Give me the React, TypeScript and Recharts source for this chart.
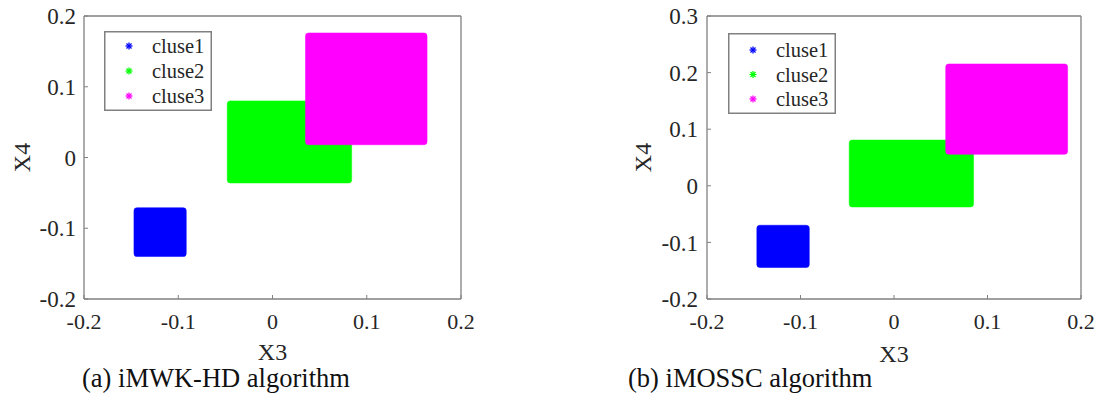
import { ScatterChart, Scatter, XAxis, YAxis, ReferenceArea } from 'recharts'

const x3Ticks = [-0.2, -0.1, 0, 0.1, 0.2]
const x4TicksA = [-0.2, -0.1, 0, 0.1, 0.2]
const x4TicksB = [-0.2, -0.1, 0, 0.1, 0.2, 0.3]
const clusterNames = ['cluse1', 'cluse2', 'cluse3']
const clusterColors = ['#0000ff', '#00ff00', '#ff00ff']
// cluster extents: [x3 min, x3 max, x4 min, x4 max]
const iMWKHD = [
  [-0.147, -0.0915, -0.14, -0.071],
  [-0.048, 0.084, -0.036, 0.08],
  [0.035, 0.164, 0.018, 0.176],
]
const iMOSSC = [
  [-0.1467, -0.0906, -0.1444, -0.0697],
  [-0.0479, 0.0851, -0.0374, 0.0808],
  [0.0553, 0.1857, 0.0556, 0.2153],
]
const captions = ['(a) iMWK-HD algorithm', '(b) iMOSSC algorithm']

const FONT = '"Liberation Serif", "Times New Roman", serif'
const AXIS = '#808080'
const INK = '#262626'

function Star({ x, y, color }: { x: number; y: number; color: string }) {
  const r = 3.5
  return (
    <g stroke={color} strokeWidth={1.3}>
      <line x1={x - r} y1={y} x2={x + r} y2={y} />
      <line x1={x} y1={y - r} x2={x} y2={y + r} />
      <line x1={x - 2.5} y1={y - 2.5} x2={x + 2.5} y2={y + 2.5} />
      <line x1={x - 2.5} y1={y + 2.5} x2={x + 2.5} y2={y - 2.5} />
    </g>
  )
}

function LegendBox({ left, top, width, height, markX, textX, rowY, gap }: any) {
  return (
    <svg style={{ position: 'absolute', left, top }} width={width} height={height}>
      <rect x={0.75} y={0.75} width={width - 1.5} height={height - 1.5} fill="#fff" stroke={AXIS} strokeWidth={1.5} />
      {clusterNames.map((name, i) => (
        <g key={name}>
          <Star x={markX} y={rowY + i * gap} color={clusterColors[i]} />
          <text x={textX} y={rowY + i * gap} dy="0.35em" fontSize={20.5} fontFamily={FONT} fill={INK}>{name}</text>
        </g>
      ))}
    </svg>
  )
}

function Panel({ left, width, plotLeft, plotRight, yTicks, bounds, yTickMargin, yTitleX, xTitleY }: any) {
  const xTick = { fill: INK, fontSize: 22, fontFamily: FONT }
  const yTick = { fill: INK, fontSize: 23, fontFamily: FONT }
  const domainY = [yTicks[0], yTicks[yTicks.length - 1]]
  const corners = bounds.flatMap((b: number[]) => [{ x: b[0], y: b[2] }, { x: b[1], y: b[3] }])
  return (
    <div style={{ position: 'absolute', left, top: 0, width, height: 400 }}>
      <ScatterChart width={width} height={400} margin={{ top: 15, right: width - plotRight, bottom: 31, left: 0 }}>
        <XAxis type="number" dataKey="x" domain={[-0.2, 0.2]} ticks={x3Ticks} height={70} fontSize={22} fontFamily={FONT}
          tick={xTick} tickSize={-4} tickMargin={18} tickLine={{ stroke: AXIS }} axisLine={{ stroke: AXIS, strokeWidth: 1.3 }}
          label={{ content: ({ viewBox }: any) => (
            <text x={viewBox.x + viewBox.width / 2} y={viewBox.y + xTitleY} textAnchor="middle" fontSize={24} fontFamily={FONT} fill={INK}>X3</text>
          ) }} />
        <XAxis xAxisId="top" orientation="top" type="number" dataKey="x" domain={[-0.2, 0.2]} ticks={x3Ticks} height={1}
          tick={false} tickSize={-4} tickLine={{ stroke: AXIS }} axisLine={{ stroke: AXIS, strokeWidth: 1.3 }} />
        <YAxis type="number" dataKey="y" domain={domainY} ticks={yTicks} width={plotLeft} fontSize={23} fontFamily={FONT}
          tick={yTick} tickSize={-4} tickMargin={yTickMargin} tickLine={{ stroke: AXIS }} axisLine={{ stroke: AXIS, strokeWidth: 1.3 }}
          label={{ content: ({ viewBox }: any) => {
            const cy = viewBox.y + viewBox.height / 2
            return (
              <text x={yTitleX} y={cy} transform={`rotate(-90 ${yTitleX} ${cy})`} dy="0.35em" textAnchor="middle" fontSize={24} fontFamily={FONT} fill={INK}>X4</text>
            )
          } }} />
        <YAxis yAxisId="right" orientation="right" type="number" dataKey="y" domain={domainY} ticks={yTicks} width={1}
          tick={false} tickSize={-4} tickLine={{ stroke: AXIS }} axisLine={{ stroke: AXIS, strokeWidth: 1.3 }} />
        {bounds.map((b: number[], i: number) => (
          <Scatter key={'s' + clusterNames[i]} name={clusterNames[i]} isAnimationActive={false} legendType="none"
            data={[{ x: b[0], y: b[2] }, { x: b[1], y: b[3] }]} shape={() => <g />} />
        ))}
        <Scatter xAxisId="top" yAxisId="right" isAnimationActive={false} legendType="none" data={corners} shape={() => <g />} />
        {bounds.map((b: number[], i: number) => (
          <ReferenceArea key={clusterNames[i]} x1={b[0]} x2={b[1]} y1={b[2]} y2={b[3]}
            fill={clusterColors[i]} fillOpacity={1} stroke={clusterColors[i]} strokeOpacity={0.5} radius={3} />
        ))}
      </ScatterChart>
    </div>
  )
}

export default function App() {
  const captionStyle = { position: 'absolute' as const, top: 365, fontSize: 26.5, lineHeight: '26px', fontFamily: FONT, color: '#111', whiteSpace: 'nowrap' as const }
  return (
    <div style={{ position: 'absolute', left: 0, top: 0, width: 1101, height: 400, background: '#fff', fontFamily: FONT }}>
      <Panel left={0} width={540} plotLeft={84} plotRight={462} yTicks={x4TicksA} bounds={iMWKHD} yTickMargin={12} yTitleX={22} xTitleY={61} />
      <Panel left={560} width={541} plotLeft={147} plotRight={522} yTicks={x4TicksB} bounds={iMOSSC} yTickMargin={13} yTitleX={83} xTitleY={63} />
      <LegendBox left={104} top={31} width={108} height={80} markX={25} textX={48} rowY={15} gap={25} />
      <LegendBox left={728} top={33} width={108} height={81} markX={25} textX={48} rowY={17} gap={24.5} />
      <div style={{ ...captionStyle, left: 82 }}>{captions[0]}</div>
      <div style={{ ...captionStyle, left: 628 }}>{captions[1]}</div>
    </div>
  )
}
